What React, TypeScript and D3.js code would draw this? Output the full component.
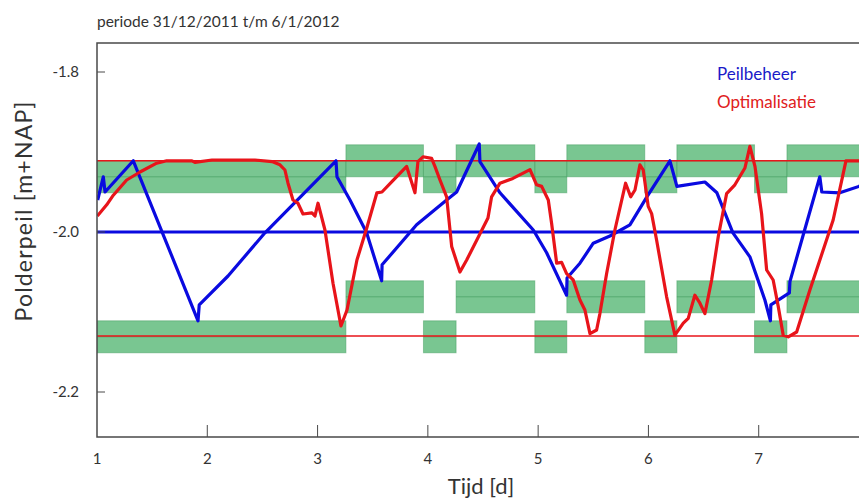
import React from 'react';
import * as d3 from 'd3';

// ---- data ----
const titleText = 'periode 31/12/2011 t/m 6/1/2012';
const xTicks = [1, 2, 3, 4, 5, 6, 7];
const yTicks = [-1.8, -2.0, -2.2];

// tariff periods (day units) and band centres
const periodStart = [1, 3.257, 3.96, 4.256, 4.97, 5.26, 5.967, 6.258, 6.962, 7.256, 7.96];
const periodEnd = [3.257, 3.96, 4.256, 4.97, 5.26, 5.967, 6.258, 6.962, 7.256, 7.96, 8];
const upperBand = [-1.931, -1.911, -1.931, -1.911, -1.931, -1.911, -1.931, -1.911, -1.931, -1.911, -1.931];
const lowerBand = [-2.131, -2.081, -2.131, -2.081, -2.131, -2.081, -2.131, -2.081, -2.131, -2.081, -2.131];
const bandHalf = 0.02;

const targetLevel = -2.0;
const redLimits = [-1.911, -2.13];

// Peilbeheer (blue)
const blueT = [1.006, 1.057, 1.073, 1.329, 1.916, 1.927, 2.188, 2.523, 3.167, 3.176, 3.294, 3.445, 3.581, 3.585, 3.898, 4.17, 4.261, 4.466, 4.472, 4.654, 4.956, 5.077, 5.258, 5.262, 5.379, 5.5, 5.651, 5.832, 5.986, 6.195, 6.258, 6.512, 6.621, 6.766, 6.92, 7.056, 7.106, 7.11, 7.278, 7.283, 7.554, 7.572, 7.735, 7.908, 8.0];
const blueV = [-1.96, -1.931, -1.95, -1.911, -2.111, -2.091, -2.055, -2.001, -1.911, -1.931, -1.96, -2.001, -2.061, -2.041, -1.991, -1.96, -1.95, -1.89, -1.912, -1.951, -1.9975, -2.026, -2.079, -2.0575, -2.039, -2.014, -2.005, -1.991, -1.956, -1.911, -1.943, -1.9375, -1.951, -2.001, -2.031, -2.085, -2.111, -2.091, -2.076, -2.062, -1.931, -1.95, -1.951, -1.943, -1.936];

// Optimalisatie (red)
const redT = [1.003, 1.088, 1.148, 1.269, 1.39, 1.541, 1.632, 1.861, 1.888, 2.043, 2.432, 2.587, 2.659, 2.704, 2.732, 2.777, 2.822, 2.868, 2.949, 2.976, 3.004, 3.067, 3.14, 3.212, 3.267, 3.357, 3.448, 3.538, 3.584, 3.674, 3.808, 3.883, 3.91, 3.956, 4.034, 4.064, 4.11, 4.17, 4.216, 4.291, 4.352, 4.545, 4.578, 4.654, 4.771, 4.926, 4.986, 5.032, 5.092, 5.122, 5.168, 5.213, 5.258, 5.318, 5.379, 5.424, 5.47, 5.53, 5.56, 5.621, 5.696, 5.793, 5.839, 5.878, 5.923, 5.953, 5.998, 6.029, 6.074, 6.165, 6.24, 6.316, 6.361, 6.421, 6.467, 6.512, 6.573, 6.633, 6.709, 6.784, 6.875, 6.92, 6.966, 7.026, 7.072, 7.131, 7.177, 7.222, 7.268, 7.344, 7.464, 7.675, 7.791, 7.908, 8.0];
const redV = [-1.98, -1.966, -1.954, -1.935, -1.925, -1.914, -1.911, -1.911, -1.913, -1.91, -1.91, -1.912, -1.916, -1.9225, -1.939, -1.96, -1.964, -1.9775, -1.976, -1.98, -1.964, -1.9975, -2.064, -2.1175, -2.0975, -2.035, -1.994, -1.951, -1.95, -1.937, -1.918, -1.951, -1.912, -1.906, -1.908, -1.918, -1.935, -1.956, -2.018, -2.05, -2.035, -1.9825, -1.956, -1.939, -1.933, -1.922, -1.941, -1.943, -1.96, -1.989, -2.039, -2.038, -2.052, -2.06, -2.085, -2.0975, -2.127, -2.1225, -2.102, -2.052, -1.9975, -1.939, -1.956, -1.9475, -1.916, -1.9225, -1.968, -1.977, -2.01, -2.081, -2.129, -2.114, -2.108, -2.079, -2.089, -2.102, -2.06, -2.006, -1.952, -1.941, -1.92, -1.893, -1.918, -1.977, -2.0475, -2.06, -2.093, -2.129, -2.131, -2.125, -2.0725, -1.985, -1.911, -1.911, -1.911];

const legendNames = ['Peilbeheer', 'Optimalisatie'];
const legendColors = ['#1a1ac8', '#e02020'];

// ---- layout ----
const W = 859;
const H = 500;
const left = 97;
const top = 43;
const bottom = 437;
const right = 869;

const BLUE = '#0a0ae0';
const RED = '#e8141a';
const GREEN = '#62bc7e';
const GREEN_DARK = '#3f9a5c';
const TXT = '#333333';
const FONT = 'Lato, "Open Sans", sans-serif';

export default function App() {
  const x = d3.scaleLinear().domain([1, 8]).range([left, right]);
  const y = d3.scaleLinear().domain([-1.8, -2.2]).range([72, 392]);

  const line = d3
    .line<[number, number]>()
    .x((d) => x(d[0]))
    .y((d) => y(d[1]))
    .curve(d3.curveLinear);

  const blueData: [number, number][] = blueT.map((t, i) => [t, blueV[i]]);
  const redData: [number, number][] = redT.map((t, i) => [t, redV[i]]);

  const bands: { s: number; e: number; c: number }[] = [];
  periodStart.forEach((s, i) => {
    bands.push({ s, e: periodEnd[i], c: upperBand[i] });
    bands.push({ s, e: periodEnd[i], c: lowerBand[i] });
  });

  return (
    <svg
      width={W}
      height={H}
      style={{ position: 'absolute', left: 0, top: 0, background: '#fff' }}
      fontFamily={FONT}
    >
      <defs>
        <clipPath id="plot">
          <rect x={left} y={top} width={right - left} height={bottom - top} />
        </clipPath>
      </defs>

      <text x={97} y={27} fontSize={15.5} fill={TXT}>
        {titleText}
      </text>

      <g clipPath="url(#plot)">
        {bands.map((b, i) => (
          <g key={'b' + i}>
            <rect
              x={x(b.s)}
              y={y(b.c + bandHalf)}
              width={x(b.e) - x(b.s)}
              height={y(b.c - bandHalf) - y(b.c + bandHalf)}
              fill={GREEN}
              fillOpacity={0.85}
              stroke={GREEN_DARK}
              strokeOpacity={0.45}
              strokeWidth={1}
            />
            <line
              x1={x(b.s)}
              x2={x(b.e)}
              y1={y(b.c)}
              y2={y(b.c)}
              stroke={GREEN_DARK}
              strokeOpacity={0.6}
              strokeWidth={1}
            />
          </g>
        ))}

        {redLimits.map((v, i) => (
          <line key={'rl' + i} x1={left} x2={right} y1={y(v)} y2={y(v)} stroke={RED} strokeWidth={1.5} />
        ))}
        <line x1={left} x2={right} y1={y(targetLevel)} y2={y(targetLevel)} stroke={BLUE} strokeWidth={3} />

        <path d={line(blueData) || ''} fill="none" stroke={BLUE} strokeWidth={3.2} strokeLinejoin="round" />
        <path d={line(redData) || ''} fill="none" stroke={RED} strokeWidth={3.2} strokeLinejoin="round" />
      </g>

      {/* frame */}
      <path
        d={`M${right},${top}H${left}V${bottom}H${right}V${top}`}
        fill="none"
        stroke="#4a4a4a"
        strokeWidth={1.5}
      />

      {/* y ticks */}
      {yTicks.map((v) => (
        <g key={'yt' + v}>
          <line x1={left} x2={left + 8} y1={y(v)} y2={y(v)} stroke="#4a4a4a" strokeWidth={1} />
          <text x={79} y={y(v)} dy="0.36em" textAnchor="end" fontSize={15} fill={TXT}>
            {d3.format('.1f')(v).replace('−', '-')}
          </text>
        </g>
      ))}

      {/* x ticks */}
      {xTicks.map((t) => (
        <g key={'xt' + t}>
          {t > 1 && (
            <line x1={x(t)} x2={x(t)} y1={bottom} y2={bottom - 12} stroke="#4a4a4a" strokeWidth={1} />
          )}
          <text x={x(t)} y={464} textAnchor="middle" fontSize={15} fill={TXT}>
            {t}
          </text>
        </g>
      ))}

      <text x={481} y={494} textAnchor="middle" fontSize={22} fill={TXT}>
        Tijd [d]
      </text>
      <text
        transform={`translate(32,${211}) rotate(-90)`}
        textAnchor="middle"
        fontSize={23}
        letterSpacing={1.2}
        fill={TXT}
      >
        Polderpeil [m+NAP]
      </text>

      {legendNames.map((n, i) => (
        <text key={n} x={717} y={80 + i * 28} fontSize={17} fill={legendColors[i]}>
          {n}
        </text>
      ))}
    </svg>
  );
}
